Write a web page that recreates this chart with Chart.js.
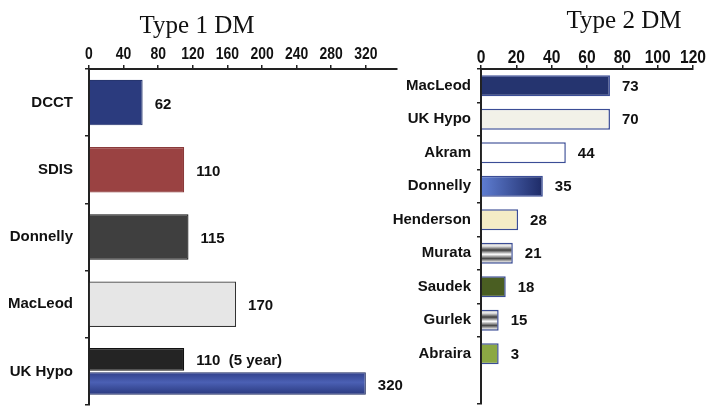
<!DOCTYPE html>
<html>
<head>
<meta charset="utf-8">
<script src="https://cdn.jsdelivr.net/npm/chart.js@4.4.1/dist/chart.umd.min.js"></script>
<style>
  html, body { margin: 0; padding: 0; background: #fff; }
  #wrap { position: relative; width: 714px; height: 415px; }
  #left { position: absolute; left: 0; top: 0; }
  #right { position: absolute; left: 380px; top: 0; }
</style>
</head>
<body>
<div id="wrap">
  <canvas id="left" width="420" height="415"></canvas>
  <canvas id="right" width="334" height="415"></canvas>
</div>
<script>
// Type 1 DM
const type1Studies = ['DCCT', 'SDIS', 'Donnelly', 'MacLeod', 'UK Hypo'];
const type1Rates = [62, 110, 115, 170, 110];
const type1Extra = [null, null, null, null, 320]; // UK Hypo second bar
const type1RateText = ['62', '110', '115', '170', '110  (5 year)'];
const type1ExtraText = [null, null, null, null, '320'];
const type1Ticks = [0, 40, 80, 120, 160, 200, 240, 280, 320];

// Type 2 DM (printed numbers and bar lengths as drawn)
const type2Studies = ['MacLeod', 'UK Hypo', 'Akram', 'Donnelly', 'Henderson', 'Murata', 'Saudek', 'Gurlek', 'Abraira', ''];
const type2Printed = [73, 70, 44, 35, 28, 21, 18, 15, 3];
const type2Drawn = [73, 73, 48, 35, 21, 18, 14, 10, 10];
const type2Ticks = [0, 20, 40, 60, 80, 100, 120];

const sans = '"Liberation Sans", Arial, sans-serif';

function band(c) {
  const y = c.chart.scales.y;
  const mid = y.getPixelForValue(c.dataIndex);
  const half = Math.abs(y.getPixelForValue(1) - y.getPixelForValue(0)) / 2;
  return { mid, half };
}

function vGrad(c, top, bottom, stops, fallback) {
  if (!c.chart.chartArea) return fallback;
  const g = c.chart.ctx.createLinearGradient(0, top, 0, bottom);
  stops.forEach(s => g.addColorStop(s[0], s[1]));
  return g;
}

function hGrad(c, x0, x1, stops, fallback) {
  if (!c.chart.chartArea) return fallback;
  const g = c.chart.ctx.createLinearGradient(x0, 0, x1, 0);
  stops.forEach(s => g.addColorStop(s[0], s[1]));
  return g;
}

const valueLabels = {
  id: 'valueLabels',
  afterDatasetsDraw(chart, args, opts) {
    const ctx = chart.ctx;
    ctx.save();
    ctx.font = 'bold 15px ' + sans;
    ctx.fillStyle = '#111';
    ctx.textBaseline = 'middle';
    opts.sets.forEach((texts, di) => {
      chart.getDatasetMeta(di).data.forEach((bar, i) => {
        if (texts[i] == null) return;
        ctx.fillText(texts[i], bar.x + opts.gap, bar.y + opts.dy);
      });
    });
    ctx.restore();
  }
};

// x tick labels in a condensed bold face (no narrow font installed)
const narrowTicks = {
  id: 'narrowTicks',
  afterDraw(chart, args, opts) {
    const xs = chart.scales.x;
    const ctx = chart.ctx;
    ctx.save();
    ctx.font = 'bold ' + opts.size + 'px ' + sans;
    ctx.fillStyle = '#111';
    ctx.textAlign = 'center';
    ctx.textBaseline = 'alphabetic';
    xs.ticks.forEach(t => {
      ctx.save();
      ctx.translate(xs.getPixelForValue(t.value), opts.baseline);
      ctx.scale(0.82, 1);
      ctx.fillText(String(t.value), 0, 0);
      ctx.restore();
    });
    ctx.restore();
  }
};

const sideTitle = {
  id: 'sideTitle',
  afterDraw(chart, args, opts) {
    const ctx = chart.ctx;
    ctx.save();
    ctx.font = '25px "Liberation Serif", "Times New Roman", serif';
    ctx.fillStyle = '#111';
    ctx.textAlign = 'center';
    ctx.textBaseline = 'alphabetic';
    ctx.fillText(opts.text, opts.x, opts.y);
    ctx.restore();
  }
};

function axes(xMax, xTicks, yWidth, yPad, hideTick) {
  return {
    x: {
      position: 'top',
      min: 0,
      max: xMax,
      afterBuildTicks: s => { s.ticks = xTicks.map(v => ({ value: v })); },
      afterFit: s => { s.height = 69; s.paddingLeft = 0; s.paddingRight = 0; },
      ticks: { display: false },
      grid: { drawOnChartArea: false, tickLength: 4, tickColor: '#222', lineWidth: 1.5 },
      border: { color: '#222', width: 2 }
    },
    y: {
      afterFit: s => { s.width = yWidth; s.paddingTop = 0; s.paddingBottom = 0; },
      ticks: { font: { family: sans, size: 15, weight: 'bold' }, color: '#111', padding: yPad, autoSkip: false },
      grid: {
        drawOnChartArea: false, tickLength: 4, lineWidth: 1.5,
        tickColor: c => (c.index === hideTick ? 'rgba(0,0,0,0)' : '#222')
      },
      border: { color: '#222', width: 2 }
    }
  };
}

new Chart(document.getElementById('left'), {
  type: 'bar',
  data: {
    labels: type1Studies,
    datasets: [{
      data: type1Rates,
      backgroundColor: ['#2b3b7e', '#9a4242', '#3f3f3f', '#e6e6e6', '#242424'],
      borderColor: ['#26356f', '#8a3a3a', '#111', '#333', '#111'],
      borderWidth: 1.2,
      skipNull: true,
      categoryPercentage: 0.72,
      barPercentage: 0.94
    }, {
      data: type1Extra,
      backgroundColor: c => {
        const b = band(c);
        return vGrad(c, b.mid, b.mid + b.half * 0.72, [[0, '#2e3d86'], [0.45, '#4b60b4'], [1, '#27367a']], '#3d4f9e');
      },
      borderColor: '#1d2a5e',
      borderWidth: 1.2,
      skipNull: true,
      categoryPercentage: 0.72,
      barPercentage: 0.94
    }]
  },
  options: {
    indexAxis: 'y',
    responsive: false,
    animation: false,
    layout: { padding: { top: 0, right: 23, bottom: 10, left: 0 } },
    scales: axes(356, type1Ticks, 89, 12, -1),
    plugins: {
      legend: { display: false },
      tooltip: { enabled: false },
      valueLabels: { sets: [type1RateText, type1ExtraText], gap: 12, dy: 2 },
      narrowTicks: { size: 17, baseline: 59 },
      sideTitle: { text: 'Type 1 DM', x: 197, y: 33 }
    }
  },
  plugins: [valueLabels, narrowTicks, sideTitle]
});

const metal = [[0, '#9a9a9a'], [0.15, '#f2f2f2'], [0.35, '#3c3c3c'], [0.55, '#ffffff'], [0.75, '#4a4a4a'], [0.9, '#dadada'], [1, '#777']];

new Chart(document.getElementById('right'), {
  type: 'bar',
  data: {
    labels: type2Studies,
    datasets: [{
      data: type2Drawn,
      backgroundColor: c => {
        const i = c.dataIndex;
        const b = band(c);
        const h = b.half * 0.63;
        if (i === 3) {
          const xs = c.chart.scales.x;
          return hGrad(c, xs.getPixelForValue(0), xs.getPixelForValue(type2Drawn[3]), [[0, '#5f7ed2'], [1, '#1d2a66']], '#3d55a8');
        }
        if (i === 5 || i === 7) return vGrad(c, b.mid - h, b.mid + h, metal, '#999');
        return ['#25346f', '#f2f1e8', '#ffffff', null, '#f4ecc6', null, '#4a5e22', null, '#8ba844'][i];
      },
      borderColor: '#3b4d96',
      borderWidth: 1.5,
      categoryPercentage: 1,
      barPercentage: 0.63
    }]
  },
  options: {
    indexAxis: 'y',
    responsive: false,
    animation: false,
    layout: { padding: { top: 0, right: 21, bottom: 11, left: 0 } },
    scales: axes(120, type2Ticks, 101, 6, 9),
    plugins: {
      legend: { display: false },
      tooltip: { enabled: false },
      valueLabels: { sets: [type2Printed.map(String)], gap: 12, dy: 1 },
      narrowTicks: { size: 19, baseline: 63 },
      sideTitle: { text: 'Type 2 DM', x: 244, y: 28 }
    }
  },
  plugins: [valueLabels, narrowTicks, sideTitle]
});
</script>
</body>
</html>
